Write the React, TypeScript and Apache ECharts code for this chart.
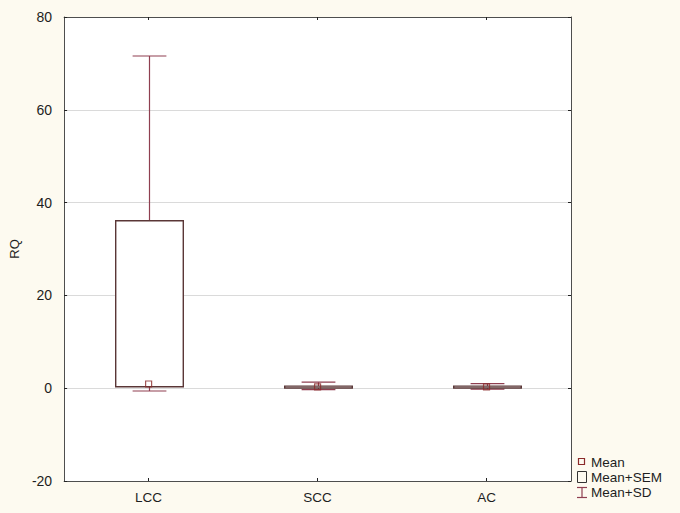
import React, { useEffect, useRef } from "react";
import * as echarts from "echarts";

const categories = ["LCC", "SCC", "AC"];
const means = [0.9, 0.3, 0.3];
const semLow = [0.3, 0.05, 0.05];
const semHigh = [36.1, 0.45, 0.45];
const sdLow = [-0.6, -0.3, -0.2];
const sdHigh = [71.6, 1.3, 1.0];
const yTicks = { min: -20, max: 80, interval: 20 };
const legendItems = ["Mean", "Mean+SEM", "Mean+SD"];

const WHISKER = "#8f3f50";
const BOX = "#5a3636";
const MEAN = "#8b2a2a";
const FRAME = "#4e4e4e";
const TEXT = "#1e1e1e";
const FONT = "Arial, 'Liberation Sans', sans-serif";

export default function App() {
  const ref = useRef<HTMLDivElement>(null);
  useEffect(() => {
    if (!ref.current) return;
    const chart = echarts.init(ref.current, null, { renderer: "svg" });
    const boxData = categories.map((_, i) => [i, sdLow[i], semLow[i], semHigh[i], sdHigh[i]]);
    const axisCommon = {
      axisLine: { show: true, onZero: false, lineStyle: { color: FRAME, width: 1 } },
      axisTick: { show: true, inside: true, length: 3, lineStyle: { color: "#222" } },
    };
    chart.setOption({
      animation: false,
      backgroundColor: "#fdfaf0",
      grid: {
        left: 64,
        top: 17,
        width: 507,
        height: 464,
        show: true,
        backgroundColor: "#ffffff",
        borderWidth: 0,
      },
      xAxis: [
        {
          type: "category",
          data: categories,
          position: "bottom",
          ...axisCommon,
          axisTick: { ...axisCommon.axisTick, alignWithLabel: true },
          axisLabel: { color: TEXT, fontSize: 13.5, fontFamily: FONT, margin: 9 },
          splitLine: { show: false },
        },
        {
          type: "category",
          data: categories,
          position: "top",
          ...axisCommon,
          axisTick: { ...axisCommon.axisTick, alignWithLabel: true },
          axisLabel: { show: false },
          splitLine: { show: false },
        },
      ],
      yAxis: [
        {
          type: "value",
          min: yTicks.min,
          max: yTicks.max,
          interval: yTicks.interval,
          position: "left",
          name: "RQ",
          nameLocation: "middle",
          nameGap: 42,
          nameTextStyle: { color: TEXT, fontSize: 13, fontFamily: FONT },
          ...axisCommon,
          axisLabel: { color: TEXT, fontSize: 14, fontFamily: FONT, margin: 12 },
          splitLine: { show: true, lineStyle: { color: "#dadada", width: 1 } },
        },
        {
          type: "value",
          min: yTicks.min,
          max: yTicks.max,
          interval: yTicks.interval,
          position: "right",
          ...axisCommon,
          axisLabel: { show: false },
          splitLine: { show: false },
        },
      ],
      series: [
        {
          type: "custom",
          xAxisIndex: 0,
          yAxisIndex: 0,
          data: boxData,
          encode: { x: 0, y: [1, 2, 3, 4] },
          renderItem: (params: any, api: any) => {
            const idx = api.value(0);
            const band = api.size([1, 0])[0];
            const pLow = api.coord([idx, api.value(1)]);
            const pBoxLow = api.coord([idx, api.value(2)]);
            const pBoxHigh = api.coord([idx, api.value(3)]);
            const pHigh = api.coord([idx, api.value(4)]);
            const cx = Math.round(pLow[0]) + 0.5;
            const boxW = band * 0.4;
            const capW = band * 0.2;
            const lineStyle = { stroke: WHISKER, lineWidth: 1.2, fill: null };
            return {
              type: "group",
              children: [
                {
                  type: "line",
                  shape: { x1: cx, y1: pHigh[1], x2: cx, y2: pLow[1] },
                  style: lineStyle,
                },
                {
                  type: "line",
                  shape: { x1: cx - capW / 2, y1: pHigh[1], x2: cx + capW / 2, y2: pHigh[1] },
                  style: lineStyle,
                },
                {
                  type: "line",
                  shape: { x1: cx - capW / 2, y1: pLow[1], x2: cx + capW / 2, y2: pLow[1] },
                  style: lineStyle,
                },
                {
                  type: "rect",
                  shape: {
                    x: cx - boxW / 2,
                    y: pBoxHigh[1],
                    width: boxW,
                    height: Math.max(pBoxLow[1] - pBoxHigh[1], 1),
                  },
                  style: { fill: "#ffffff", stroke: BOX, lineWidth: 1.4 },
                },
              ],
            };
          },
          z: 2,
        },
        {
          type: "scatter",
          xAxisIndex: 0,
          yAxisIndex: 0,
          data: categories.map((_, i) => [i, means[i]]),
          symbol: "rect",
          symbolSize: 6,
          itemStyle: { color: "rgba(255,255,255,0)", borderColor: MEAN, borderWidth: 1.2 },
          z: 3,
        },
      ],
      graphic: [
        {
          type: "rect",
          shape: { x: 578.5, y: 458.5, width: 6, height: 6 },
          style: { fill: "none", stroke: MEAN, lineWidth: 1.2 },
        },
        {
          type: "rect",
          shape: { x: 577.5, y: 471.5, width: 9, height: 11 },
          style: { fill: "none", stroke: "#333", lineWidth: 1 },
        },
        {
          type: "polyline",
          shape: { points: [[577, 487.5], [587, 487.5]] },
          style: { stroke: WHISKER, lineWidth: 1.2, fill: null },
        },
        {
          type: "polyline",
          shape: { points: [[582, 487.5], [582, 497.5]] },
          style: { stroke: WHISKER, lineWidth: 1.2, fill: null },
        },
        {
          type: "polyline",
          shape: { points: [[577, 497.5], [587, 497.5]] },
          style: { stroke: WHISKER, lineWidth: 1.2, fill: null },
        },
        ...legendItems.map((t, i) => ({
          type: "text",
          x: 591,
          y: 462 + i * 15,
          style: {
            text: t,
            fill: TEXT,
            fontSize: 13.5,
            fontFamily: FONT,
            textVerticalAlign: "middle",
            verticalAlign: "middle",
          },
        })),
      ],
    });
    return () => chart.dispose();
  }, []);
  return (
    <div
      ref={ref}
      style={{ position: "fixed", left: 0, top: 0, width: 680, height: 513 }}
    />
  );
}
